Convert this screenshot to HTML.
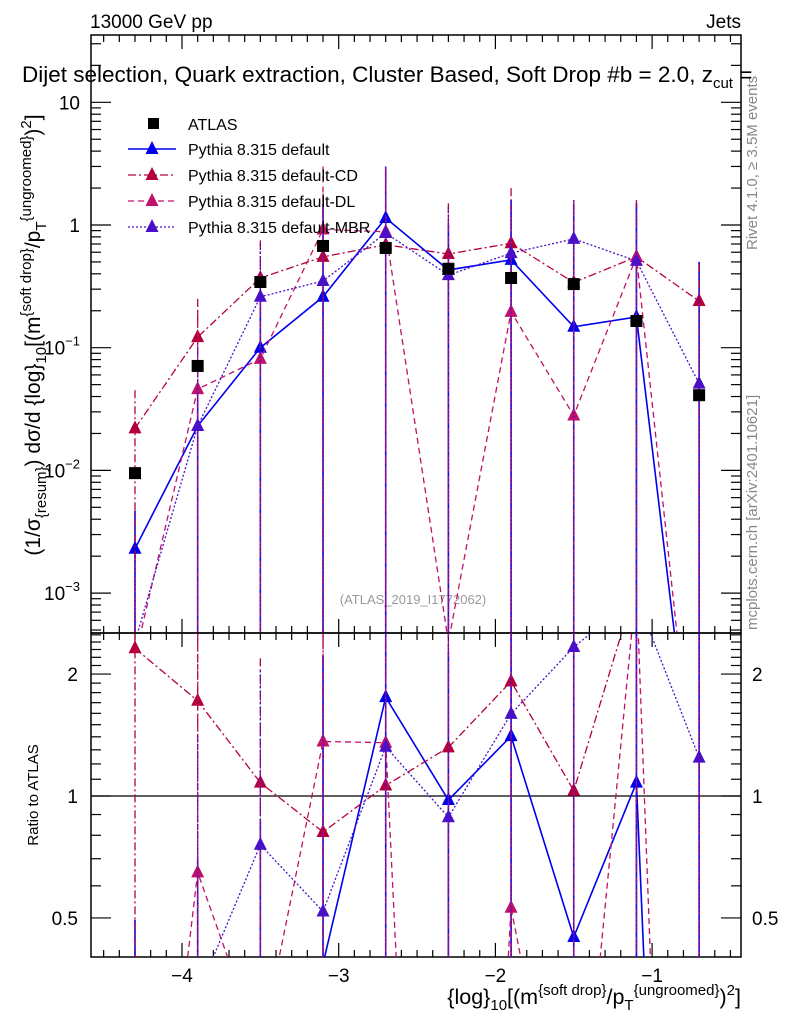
<!DOCTYPE html>
<html><head><meta charset="utf-8"><style>
html,body{margin:0;padding:0;background:#fff;width:786px;height:1024px;overflow:hidden}
svg{font-family:"Liberation Sans",sans-serif;display:block}
</style></head><body>
<svg id="c" width="786" height="1024" xmlns="http://www.w3.org/2000/svg">
<defs>
<clipPath id="cm"><rect x="91" y="35" width="650" height="598"/></clipPath>
<clipPath id="cr"><rect x="91" y="633" width="650" height="324"/></clipPath>
</defs>
<text x="90" y="28" font-size="19">13000 GeV pp</text>
<text x="741" y="28" font-size="19" text-anchor="end">Jets</text>
<text x="757" y="250" font-size="15" fill="#888" transform="rotate(-90 757 250)">Rivet 4.1.0, ≥ 3.5M events</text>
<text x="757" y="630" font-size="15" fill="#888" transform="rotate(-90 757 630)">mcplots.cern.ch [arXiv:2401.10621]</text>
<text x="413" y="604" font-size="13" fill="#999" text-anchor="middle">(ATLAS_2019_I1772062)</text>
<g id="main"></g>
<g id="ratio"></g>
<text x="22" y="82" font-size="22.5">Dijet selection, Quark extraction, Cluster Based, Soft Drop #b = 2.0, z<tspan font-size="15" dy="6">cut</tspan><tspan dy="-6"> =</tspan></text>
<text transform="translate(40 335) rotate(-90)" font-size="21" text-anchor="middle">(1/σ<tspan font-size="15" dy="6">{resum}</tspan><tspan dy="-6">) dσ/d {log}</tspan><tspan font-size="15" dy="6">10</tspan><tspan dy="-6">[(m</tspan><tspan font-size="15" dy="-9">{soft drop}</tspan><tspan dy="9">/p</tspan><tspan font-size="15" dy="6">T</tspan><tspan font-size="15" dy="-15">{ungroomed}</tspan><tspan dy="9">)</tspan><tspan font-size="15" dy="-9">2</tspan><tspan dy="9">]</tspan></text>
<text transform="translate(38 795) rotate(-90)" font-size="15" text-anchor="middle">Ratio to ATLAS</text>
<text x="741" y="1004" font-size="21.5" text-anchor="end">{log}<tspan font-size="15" dy="6">10</tspan><tspan dy="-6">[(m</tspan><tspan font-size="15" dy="-9">{soft drop}</tspan><tspan dy="9">/p</tspan><tspan font-size="15" dy="6">T</tspan><tspan font-size="15" dy="-15">{ungroomed}</tspan><tspan dy="9">)</tspan><tspan font-size="15" dy="-9">2</tspan><tspan dy="9">]</tspan></text>
</svg>
<script>
const xs=[-4.3,-3.9,-3.5,-3.1,-2.7,-2.3,-1.9,-1.5,-1.1,-0.7];
const atlas=[0.0095,0.071,0.343,0.675,0.65,0.44,0.37,0.33,0.165,0.041];
const pDefault=[0.0023,0.023,0.10,0.26,1.14,0.43,0.52,0.148,0.178,0.00001];
const pCD=[0.022,0.122,0.37,0.55,0.69,0.58,0.71,0.34,0.55,0.24];
const pDL=[0.0003,0.046,0.081,0.92,0.88,0.0004,0.196,0.028,0.55,0.00001];
const pMBR=[0.0004,0.023,0.26,0.35,0.86,0.39,0.59,0.77,0.51,0.051];
const errUpDefault=[0.0047,0.05,0.3,1.5,3,1,1.6,1.5,1.5,0.5];
const errUpCD=[0.045,0.25,0.75,1.8,3,1.5,2,1.5,1.6,0.48];
const errUpDL=[0.002,0.2,0.5,3,3,1.4,1.4,1.6,1.5,0.1];
const errUpMBR=[0.002,0.1,0.7,1.5,3,1.4,1.5,1.6,1.5,0.3];
const xTicks=[-4,-3,-2,-1];
const mainTicks=[1e-3,1e-2,1e-1,1,10];
const ratioTicks=[0.5,1,2];
const NS="http://www.w3.org/2000/svg";
const X=v=>182+(v+4)*156.7;
const Ym=v=>225-122.7*Math.log10(v);
const Yr=v=>796-405*Math.log10(v);
function el(p,t,a){const e=document.createElementNS(NS,t);for(const k in a)e.setAttribute(k,a[k]);p.appendChild(e);return e;}
const main=document.getElementById('main'),ratio=document.getElementById('ratio');
let f1=el(main,'rect',{x:91,y:35,width:650,height:598,fill:'none',stroke:'#000','stroke-width':1.5});


let f2=el(ratio,'rect',{x:91,y:633,width:650,height:324,fill:'none',stroke:'#000','stroke-width':1.5});


for(let v=-4.5;v<=-0.45;v+=0.1){const vv=Math.round(v*10)/10;const maj=Math.abs(vv-Math.round(vv))<1e-6;const L=maj?14:7;const x=X(vv);
 for(const [y0,d] of [[35,1],[633,-1],[633,1],[957,-1]]){el(main,'line',{x1:x,x2:x,y1:y0,y2:y0+d*L,stroke:'#000','stroke-width':1.2});}}
xTicks.forEach(t=>{const e=el(ratio,'text',{x:X(t),y:982,'font-size':19,'text-anchor':'middle'});e.textContent='\u2212'+Math.abs(t);
 
 });
for(let d=-4;d<=1;d++)for(let m=1;m<=9;m++){const v=m*Math.pow(10,d);const y=Ym(v);if(y<35||y>633)continue;const L=m==1?20:10;
 el(main,'line',{x1:91,x2:91+L,y1:y,y2:y,stroke:'#000','stroke-width':1.2});el(main,'line',{x1:741,x2:741-L,y1:y,y2:y,stroke:'#000','stroke-width':1.2});}
mainTicks.forEach(t=>{const y=Ym(t);const e=el(main,'text',{x:80,y:y+7,'font-size':19,'text-anchor':'end'});
 const lg=Math.round(Math.log10(t));
 if(lg==0)e.textContent='1';else if(lg==1)e.textContent='10';else{e.textContent='10';const s=el(e,'tspan',{dy:-9,'font-size':13});s.textContent='\u2212'+Math.abs(lg);}
 
 });
[0.4,0.5,0.6,0.7,0.8,0.9,1,1.1,1.2,1.3,1.4,1.5,1.6,1.7,1.8,1.9,2,2.1,2.2,2.3,2.4,2.5].forEach(v=>{const y=Yr(v);if(y<633||y>957)return;const maj=ratioTicks.includes(v);const L=maj?20:10;
 el(ratio,'line',{x1:91,x2:91+L,y1:y,y2:y,stroke:'#000','stroke-width':1.2});el(ratio,'line',{x1:741,x2:741-L,y1:y,y2:y,stroke:'#000','stroke-width':1.2});});
ratioTicks.forEach(t=>{const y=Yr(t);for(const [x,a] of [[78,'end'],[752,'start']]){const e=el(ratio,'text',{x:x,y:y+7,'font-size':19,'text-anchor':a});e.textContent=String(t);
 
 }});
el(ratio,'line',{x1:91,x2:741,y1:Yr(1),y2:Yr(1),stroke:'#000','stroke-width':1.2});
const series=[
 {n:'default',v:pDefault,e:errUpDefault,c:'#0000ee',d:'',w:1.6},
 {n:'cd',v:pCD,e:errUpCD,c:'#b3003c',d:'8,3,2,3',w:1.3},
 {n:'dl',v:pDL,e:errUpDL,c:'#c0106a',d:'6,4',w:1.3},
 {n:'mbr',v:pMBR,e:errUpMBR,c:'#4a10c8',d:'2,2',w:1.3}];
const gm=el(main,'g',{'clip-path':'url(#cm)'}),gr=el(ratio,'g',{'clip-path':'url(#cr)'});
function tri(g,x,y,c){return el(g,'polygon',{points:`${x},${y-8} ${x-6.5},${y+5} ${x+6.5},${y+5}`,fill:c});}
series.forEach(s=>{
 const pm=xs.map((x,i)=>X(x)+','+Ym(s.v[i])).join(' ');
 const l=el(gm,'polyline',{points:pm,fill:'none',stroke:s.c,'stroke-width':s.w,'stroke-dasharray':s.d});
 
 
 const pr=xs.map((x,i)=>X(x)+','+Yr(s.v[i]/atlas[i])).join(' ');
 const l2=el(gr,'polyline',{points:pr,fill:'none',stroke:s.c,'stroke-width':s.w,'stroke-dasharray':s.d});
 
 
 xs.forEach((x,i)=>{
  el(gm,'line',{x1:X(x),x2:X(x),y1:Ym(s.e[i]),y2:640,stroke:s.c,'stroke-width':s.w,'stroke-dasharray':s.d});
  el(gr,'line',{x1:X(x),x2:X(x),y1:Yr(s.e[i]/atlas[i]),y2:960,stroke:s.c,'stroke-width':s.w,'stroke-dasharray':s.d});
  const t=tri(gm,X(x),Ym(s.v[i]),s.c);
  
  
  const t2=tri(gr,X(x),Yr(s.v[i]/atlas[i]),s.c);
  
  
 });
});
xs.forEach((x,i)=>{const r=el(gm,'rect',{x:X(x)-6,y:Ym(atlas[i])-6,width:12,height:12,fill:'#000'});
 
 });
const leg=el(main,'g',{});


el(leg,'rect',{x:148,y:118,width:11,height:11,fill:'#000'});
const lt=el(leg,'text',{x:188,y:130,'font-size':16});lt.textContent='ATLAS';
const names=['Pythia 8.315 default','Pythia 8.315 default-CD','Pythia 8.315 default-DL','Pythia 8.315 default-MBR'];
series.forEach((s,k)=>{const y=149+k*26;
 el(leg,'line',{x1:128,x2:176,y1:y,y2:y,stroke:s.c,'stroke-width':s.w,'stroke-dasharray':s.d});
 tri(leg,152,y,s.c);
 const t=el(leg,'text',{x:188,y:y+6,'font-size':16});t.textContent=names[k];
 
 });
</script>
</body></html>
